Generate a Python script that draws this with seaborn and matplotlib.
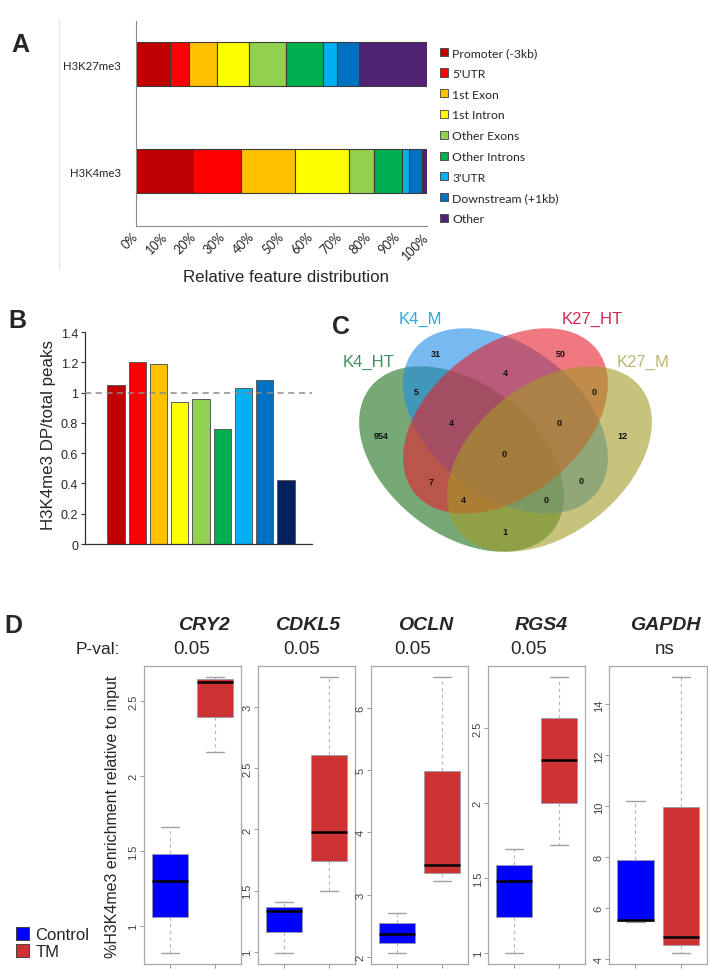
import numpy as np
import pandas as pd
import matplotlib.pyplot as plt
from matplotlib.patches import Ellipse, Patch
from matplotlib.lines import Line2D
import seaborn as sns

# ---------------- data ----------------
features = ["Promoter (-3kb)", "5'UTR", "1st Exon", "1st Intron", "Other Exons",
            "Other Introns", "3'UTR", "Downstream (+1kb)", "Other"]
feature_colors = ["#C00000", "#FF0000", "#FFC000", "#FFFF00", "#92D050",
                  "#00B050", "#00B0F0", "#0070C0", "#512373"]
marks = ["H3K27me3", "H3K4me3"]
k27_pct = [11.6, 6.7, 9.5, 10.9, 13.0, 12.4, 4.9, 7.5, 23.5]
k4_pct = [19.6, 16.6, 18.3, 18.7, 8.7, 9.4, 2.4, 4.5, 1.8]
pct_ticks = [0, 10, 20, 30, 40, 50, 60, 70, 80, 90, 100]

dp_ratio = [1.05, 1.20, 1.19, 0.94, 0.96, 0.76, 1.03, 1.08, 0.42]
dp_colors = ["#C00000", "#FF0000", "#FFC000", "#FFFF00", "#92D050",
             "#00B050", "#00B0F0", "#0070C0", "#002060"]
dp_ticks = [0, 0.2, 0.4, 0.6, 0.8, 1, 1.2, 1.4]

venn_sets = ["K4_HT", "K4_M", "K27_HT", "K27_M"]
venn_fill = ["#1B711B", "#1E8BE6", "#E61E2B", "#A39B26"]
venn_text = ["#3E8E5C", "#2DA9E1", "#D2284F", "#BDB573"]
venn_counts = [954, 31, 50, 12, 5, 4, 0, 4, 0, 0, 7, 0, 4, 0, 1]

genes = ["CRY2", "CDKL5", "OCLN", "RGS4", "GAPDH"]
pvals = ["0.05", "0.05", "0.05", "0.05", "ns"]
control_reps = [[0.822, 1.30, 1.661],
                [0.99, 1.33, 1.408],
                [2.064, 2.373, 2.704],
                [1.0, 1.482, 1.693],
                [5.47, 5.55, 10.22]]
tm_reps = [[2.162, 2.631, 2.662],
           [1.498, 1.977, 3.245],
           [3.226, 3.482, 6.49],
           [1.718, 2.289, 2.842],
           [4.25, 4.875, 15.07]]
gene_yticks = [[1, 1.5, 2, 2.5],
               [1, 1.5, 2, 2.5, 3],
               [2, 3, 4, 5, 6],
               [1, 1.5, 2, 2.5],
               [4, 6, 8, 10, 12, 14]]
group_colors = {"Control": "#0000FF", "TM": "#CD3333"}

# ---------------- layout helpers (pixels) ----------------
W, H = 708, 970


def rect(x0, y0, x1, y1):
    return [x0 / W, 1 - y1 / H, (x1 - x0) / W, (y1 - y0) / H]


def fx(x):
    return x / W


def fy(y):
    return 1 - y / H


sns.set_theme(style="white")
plt.rcParams['font.family'] = ['Liberation Sans', 'DejaVu Sans']

fig = plt.figure(figsize=(W / 100, H / 100), dpi=100)
fig.patch.set_facecolor("white")

# panel letters
for letter, (x, y) in zip("ABCD", [(20, 45), (17, 321), (341, 327), (13, 626)]):
    fig.text(fx(x), fy(y), letter, fontsize=18, weight="bold", ha="center", va="center")

fig.add_artist(Line2D([fx(59), fx(59)], [fy(20), fy(270)], color="#e2e2e2", lw=0.8))

# ---------------- A: stacked feature distribution ----------------
ax_a = fig.add_axes(rect(136, 22, 427, 227))
dist = pd.DataFrame({"H3K27me3": k27_pct, "H3K4me3": k4_pct}, index=features)
left = np.zeros(len(marks))
for feat, col in zip(features, feature_colors):
    vals = dist.loc[feat, marks].values
    ax_a.barh(marks, vals, left=left, height=0.41, color=col,
              edgecolor="#3c3c3c", linewidth=0.8)
    left += vals
ax_a.set_xlim(0, 100)
ax_a.set_ylim(1.51, -0.405)
ax_a.set_xticks(pct_ticks)
ax_a.set_xticklabels([f"{t}%" for t in pct_ticks], family="Lato", fontsize=9)
plt.setp(ax_a.get_xticklabels(), rotation=45, ha="right", va="center",
         rotation_mode="anchor")
ax_a.set_yticks(range(len(marks)))
ax_a.set_yticklabels(marks, family="Lato", fontsize=8.2)
ax_a.tick_params(axis="x", length=3, color="#888888", width=0.8, pad=3)
ax_a.tick_params(axis="y", length=0, pad=11)
for s in ["top", "right"]:
    ax_a.spines[s].set_visible(False)
for s in ["left", "bottom"]:
    ax_a.spines[s].set_color("#8c8c8c")
    ax_a.spines[s].set_linewidth(0.8)
ax_a.grid(False)
fig.text(fx(286), fy(277), "Relative feature distribution", fontsize=12.2,
         ha="center", va="center")

handles = [Patch(facecolor=c, edgecolor="#404040", linewidth=0.6, label=f)
           for f, c in zip(features, feature_colors)]
fig.legend(handles=handles, loc="upper left", bbox_to_anchor=(fx(440), fy(48)),
           frameon=False, prop={"family": "Lato", "size": 8.8},
           handlelength=0.65, handleheight=0.65, handletextpad=0.35,
           labelspacing=0.8, borderpad=0, borderaxespad=0)

# ---------------- B: DP ratio bars ----------------
ax_b = fig.add_axes(rect(85, 333, 312, 545))
sns.barplot(x=features, y=dp_ratio, hue=features,
            palette=dict(zip(features, dp_colors)), legend=False, width=0.81,
            saturation=1, edgecolor="#5a5a5a", linewidth=0.7, ax=ax_b)
ax_b.axhline(1, color="#8a8a8a", ls=(0, (4, 3)), lw=1.1, zorder=3)
ax_b.set_xlim(-1.46, 9.22)
ax_b.set_ylim(0, 1.4)
ax_b.set_yticks(dp_ticks)
ax_b.set_yticklabels([f"{t:g}" for t in dp_ticks], fontsize=9)
ax_b.set_xticks([])
ax_b.set_xlabel("")
ax_b.set_ylabel("")
ax_b.tick_params(axis="y", length=3, color="#333333", width=0.8, pad=2, left=True)
for s in ["top", "right"]:
    ax_b.spines[s].set_visible(False)
for s in ["left", "bottom"]:
    ax_b.spines[s].set_color("#333333")
    ax_b.spines[s].set_linewidth(0.9)
fig.text(fx(49), fy(435), "H3K4me3 DP/total peaks", rotation=90, fontsize=12.2,
         ha="center", va="center")

# ---------------- C: four-way Venn ----------------
ax_c = fig.add_axes(rect(330, 300, 690, 585))
ax_c.set_xlim(330, 690)
ax_c.set_ylim(585, 300)
ax_c.axis("off")
ell_centers = [(461.5, 460), (505.5, 422), (505.5, 422), (549.5, 460)]
ell_angles = [38, 38, -38, -38]
for (cx, cy), ang, col in zip(ell_centers, ell_angles, venn_fill):
    ax_c.add_patch(Ellipse((cx, cy), 232, 150, angle=ang, facecolor=col,
                           edgecolor="none", alpha=0.6))
count_pos = [(380.7, 436.7), (435.7, 354.3), (560.7, 354.3), (622.3, 436.7),
             (416, 392.7), (505, 373.3), (594, 392.7), (451, 424), (558.7, 424),
             (504.3, 455), (431, 482.7), (581, 481.7), (463.3, 501), (546, 501),
             (505, 532.3)]
for n, (x, y) in zip(venn_counts, count_pos):
    ax_c.text(x, y, str(n), fontsize=6.5, weight="bold", ha="center", va="center",
              color="#111111")
set_pos = [(368.3, 362.7), (420, 319), (591.7, 319), (643.3, 362.7)]
for name, (x, y), col in zip(venn_sets, set_pos, venn_text):
    ax_c.text(x, y, name, fontsize=12, ha="center", va="center", color=col)

# ---------------- D: ChIP-qPCR boxplots ----------------
box_left = [144, 258, 371.2, 488.2, 609.3]
box_right = [240.7, 355, 467.6, 585, 706.8]
title_x = [204, 308, 425.7, 540.8, 665]
pval_x = [192, 302, 412.5, 529, 665]

for i, gene in enumerate(genes):
    ax = fig.add_axes(rect(box_left[i], 667, box_right[i], 965))
    df = pd.DataFrame({"group": ["Control"] * 3 + ["TM"] * 3,
                       "value": control_reps[i] + tm_reps[i]})
    sns.boxplot(data=df, x="group", y="value", hue="group", palette=group_colors,
                legend=False, width=0.8, saturation=1, showfliers=False,
                linewidth=0.6, linecolor="#9a9ab0",
                whiskerprops=dict(color="#b5b5b5", linestyle=(0, (3, 3)), linewidth=0.8),
                capprops=dict(color="#a0a0a0", linewidth=1.0),
                medianprops=dict(color="black", linewidth=1.8),
                ax=ax)
    vals = np.array(control_reps[i] + tm_reps[i])
    rng = vals.max() - vals.min()
    ax.set_ylim(vals.min() - 0.04 * rng, vals.max() + 0.04 * rng)
    ax.set_xlim(-0.58, 1.58)
    ax.set_yticks(gene_yticks[i])
    ax.set_yticklabels([f"{t:g}" for t in gene_yticks[i]], rotation=90,
                       va="center", fontsize=8, color="#444444")
    ax.set_xticks([0, 1])
    ax.set_xticklabels([])
    ax.set_xlabel("")
    ax.set_ylabel("")
    ax.tick_params(axis="both", length=3, color="#888888", width=0.6, pad=1,
                   left=True, bottom=True)
    for s in ax.spines.values():
        s.set_color("#a8a8a8")
        s.set_linewidth(0.9)
    ax.grid(False)
    fig.text(fx(title_x[i]), fy(626), gene, fontsize=14, weight="bold",
             style="italic", ha="center", va="center")
    fig.text(fx(pval_x[i]), fy(650), pvals[i], fontsize=13.5, ha="center",
             va="center")

fig.text(fx(120), fy(650), "P-val:", fontsize=12.5, ha="right", va="center")
fig.text(fx(113), fy(817), "%H3K4me3 enrichment relative to input", rotation=90,
         fontsize=11.5, ha="center", va="center")
fig.legend(handles=[Patch(facecolor=group_colors["Control"], edgecolor="#333333",
                          linewidth=0.6, label="Control"),
                    Patch(facecolor=group_colors["TM"], edgecolor="#333333",
                          linewidth=0.6, label="TM")],
           loc="lower left", bbox_to_anchor=(fx(16), fy(960)), frameon=False,
           fontsize=12, handlelength=0.8, handleheight=0.8, handletextpad=0.35,
           labelspacing=0.1, borderpad=0, borderaxespad=0)

fig.savefig("out.png", dpi=100)
